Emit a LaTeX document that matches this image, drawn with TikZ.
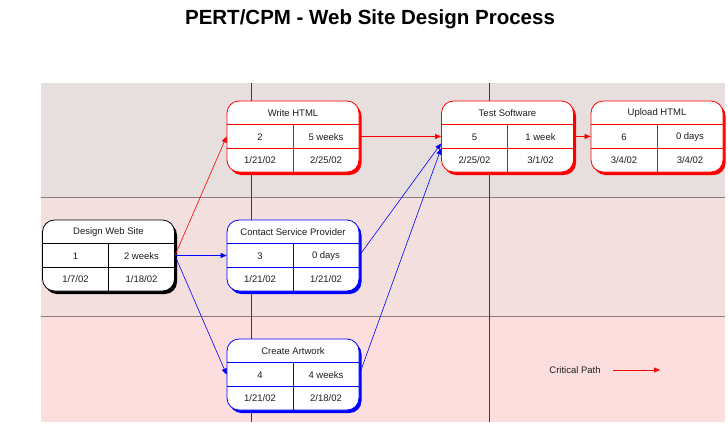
\documentclass[tikz,border=0pt]{standalone}
\usepackage{fontspec}
\setmainfont{Liberation Sans}
\usetikzlibrary{arrows.meta,calc}
\definecolor{bandA}{RGB}{230,223,221}
\definecolor{bandB}{RGB}{244,223,223}
\definecolor{bandC}{RGB}{253,222,222}
\definecolor{hgrid}{RGB}{140,125,125}
\definecolor{vgrid}{RGB}{60,60,60}
\definecolor{txt}{RGB}{30,30,30}
\definecolor{pred}{RGB}{255,0,0}
\definecolor{pblue}{RGB}{0,0,255}
\tikzset{
  boxshape/.style={rounded corners=12pt, minimum width=132pt, minimum height=71pt, inner sep=0pt},
  box/.style={boxshape, draw=#1, fill=white, line width=0.8pt},
  shad/.style={boxshape, fill=#1, draw=none},
  cell/.style={text=txt, font=\fontsize{9.5}{11}\selectfont, inner sep=0pt},
  divider/.style={draw=#1, line width=0.6pt},
  link/.style={draw=#1, line width=0.6pt, -{Triangle[length=6pt,width=5pt]}},
}
\newcommand\taskbox[9]{%
  \node[shad=#4] (#1s) at (#2+2.5,#3+3) {};
  \node[box=#4] (#1) at (#2,#3) {};
  \draw[divider=#4] ($(#1.north west)!1/3!(#1.south west)$) -- ($(#1.north east)!1/3!(#1.south east)$);
  \draw[divider=#4] ($(#1.north west)!2/3!(#1.south west)$) -- ($(#1.north east)!2/3!(#1.south east)$);
  \draw[divider=#4] ($(#1.north)!1/3!(#1.south)$) -- (#1.south);
  \node[cell] (#1t) at (#2,#3-23.5) {#5};
  \node[cell] (#1n) at (#2-33,#3+0.5) {#6};
  \node[cell] (#1d) at (#2+33,#3+0.5) {#7};
  \node[cell] (#1a) at (#2-33,#3+24) {#8};
  \node[cell] (#1b) at (#2+33,#3+24) {#9};
}
\begin{document}
\begin{tikzpicture}[x=1pt,y=-1pt]
\useasboundingbox[fill=white] (0,0) rectangle (728,424);
% title
\node[font=\fontsize{20.5}{24}\bfseries\selectfont, text=black] (title) at (370,19) {PERT/CPM - Web Site Design Process};
% background bands
\fill[bandA] (41,83) rectangle (725,197);
\fill[bandB] (41,197) rectangle (725,316);
\fill[bandC] (41,316) rectangle (725,422);
\draw[hgrid, line width=0.9pt] (41,197) -- (725,197);
\draw[hgrid, line width=0.9pt] (41,316) -- (725,316);
\draw[vgrid, line width=0.8pt] (251,83) -- (251,422);
\draw[vgrid, line width=0.8pt] (489,83) -- (489,422);
% tasks
\taskbox{d}{108.5}{255.5}{black}{Design Web Site}{1}{2 weeks}{1/7/02}{1/18/02}
\taskbox{w}{293}{136.5}{pred}{Write HTML}{2}{5 weeks}{1/21/02}{2/25/02}
\taskbox{c}{293}{255.5}{pblue}{Contact Service Provider}{3}{0 days}{1/21/02}{1/21/02}
\taskbox{a}{293}{374.5}{pblue}{Create Artwork}{4}{4 weeks}{1/21/02}{2/18/02}
\taskbox{t}{507.5}{136.5}{pred}{Test Software}{5}{1 week}{2/25/02}{3/1/02}
\taskbox{u}{657}{136.5}{pred}{Upload HTML}{6}{0 days}{3/4/02}{3/4/02}
% links
\draw[link=pred] (d.east) -- (w.west);
\draw[link=pblue] (d.east) -- (c.west);
\draw[link=pblue] (d.east) -- (a.west);
\draw[link=pred] (w.east) -- (t.west);
\draw[link=pblue] (c.east) -- ($(t.west)+(0,7)$);
\draw[link=pblue] (a.east) -- ($(t.west)+(0,12)$);
\draw[link=pred] (t.east) -- (u.west);
% legend
\node[cell] (cp) at (575,370) {Critical Path};
\coordinate (cp1) at (613,370);
\coordinate (cp2) at (660,370);
\draw[link=pred] (cp1) -- (cp2);
\end{tikzpicture}
\end{document}
